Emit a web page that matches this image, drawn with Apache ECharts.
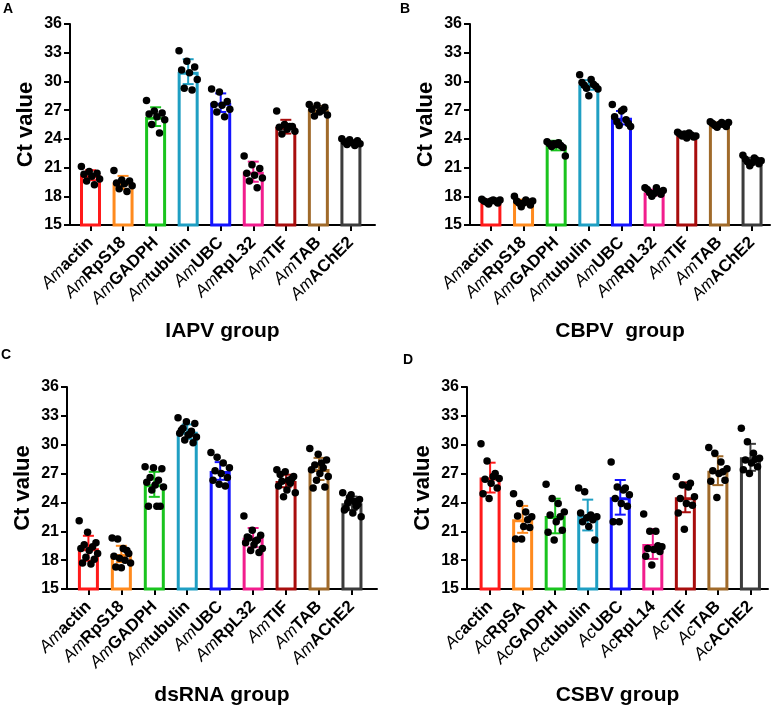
<!DOCTYPE html>
<html>
<head>
<meta charset="utf-8">
<script src="https://cdn.jsdelivr.net/npm/echarts@6/dist/echarts.min.js"></script>
<style>
html,body{margin:0;padding:0;background:#fff;}
#chart{width:777px;height:709px;}
</style>
</head>
<body>
<div id="chart"></div>
<script>
// ---------- categories ----------
const genesAm = ['actin','RpS18','GADPH','tubulin','UBC','RpL32','TIF','TAB','AChE2'];
const genesAc = ['actin','RpSA','GADPH','tubulin','UBC','RpL14','TIF','TAB','AChE2'];
const yTicks = [15,18,21,24,27,30,33,36];

// ---------- A: IAPV group ----------
const iapvMean = [20.2, 19.45, 26.32, 31.02, 27.78, 20.57, 25.27, 27.08, 23.62];
const iapvSD   = [0.52, 0.68, 0.98, 1.3, 0.97, 1.05, 0.72, 0.36, 0.15];
const iapvPoints = [
  [21.1, 20.6, 20.4, 20.3, 20.1, 19.8, 19.6, 19.2],
  [20.7, 19.7, 19.6, 19.4, 19.3, 19.1, 18.8, 18.5],
  [28.0, 26.9, 26.7, 26.6, 26.3, 26.0, 25.5, 24.6],
  [33.2, 32.1, 31.5, 31.2, 30.9, 30.2, 29.3, 29.1],
  [29.2, 28.9, 27.9, 27.6, 27.5, 27.1, 26.8, 26.3],
  [22.2, 21.3, 20.9, 20.4, 20.2, 19.9, 19.6, 18.9],
  [26.9, 25.5, 25.3, 25.2, 25.0, 24.8, 24.5, 25.3],
  [27.6, 27.5, 27.3, 27.1, 26.8, 26.5, 26.4, 27.0],
  [24.0, 23.9, 23.8, 23.7, 23.6, 23.5, 23.4, 23.3]
];

// ---------- B: CBPV group ----------
const cbpvMean = [17.5, 17.4, 23.3, 29.63, 26.21, 18.4, 24.4, 25.52, 21.72];
const cbpvSD   = [0.15, 0.25, 0.5, 0.5, 0.7, 0.3, 0.2, 0.2, 0.3];
const cbpvPoints = [
  [17.7, 17.6, 17.5, 17.5, 17.4, 17.3, 17.2, 17.6, 17.5],
  [18.0, 17.6, 17.5, 17.4, 17.3, 17.1, 16.9, 17.5, 17.3],
  [23.7, 23.6, 23.5, 23.3, 23.2, 23.1, 23.5, 22.2, 23.4],
  [30.7, 30.2, 29.9, 29.7, 29.6, 29.5, 29.3, 29.2, 28.5],
  [27.6, 27.1, 26.3, 26.0, 25.8, 25.6, 25.4, 25.3, 26.9],
  [18.9, 18.9, 18.7, 18.5, 18.4, 18.2, 18.0, 18.6, 18.3],
  [24.7, 24.6, 24.5, 24.4, 24.3, 24.2, 24.5, 24.3, 24.1],
  [25.8, 25.7, 25.6, 25.5, 25.4, 25.3, 25.2, 25.7, 25.5],
  [22.3, 22.0, 21.9, 21.8, 21.6, 21.4, 21.2, 21.7, 21.5]
];

// ---------- C: dsRNA group ----------
const dsrnaMean = [19.23, 18.64, 25.88, 31.36, 27.27, 20.34, 26.23, 27.48, 23.91];
const dsrnaSD   = [1.3, 0.85, 1.3, 0.75, 0.92, 1.0, 0.65, 1.15, 0.7];
const dsrnaPoints = [
  [22.1, 20.9, 19.8, 19.6, 19.4, 19.2, 19.0, 18.7, 18.3, 18.1, 17.7, 17.6],
  [20.3, 20.2, 19.2, 18.7, 18.4, 18.2, 18.0, 17.7, 17.3, 17.2, 19.0],
  [27.7, 27.6, 27.5, 26.6, 26.3, 26.1, 25.8, 25.6, 25.3, 23.6, 23.6, 23.6],
  [32.8, 32.4, 32.2, 31.7, 31.4, 31.2, 31.0, 30.8, 30.5, 30.2, 31.5, 31.1],
  [29.2, 28.7, 28.1, 27.6, 27.3, 27.0, 26.6, 26.3, 25.9, 25.7],
  [22.6, 21.1, 20.6, 20.3, 20.1, 19.8, 19.6, 19.2, 19.0, 18.8, 20.4, 20.0],
  [27.4, 27.2, 26.7, 26.2, 26.0, 25.7, 25.3, 25.0, 24.6, 26.5, 26.9, 26.3],
  [29.6, 29.0, 28.4, 27.9, 27.6, 27.4, 27.0, 26.7, 26.3, 25.6, 25.5, 28.1],
  [25.0, 24.8, 24.3, 24.0, 23.6, 23.2, 22.9, 22.5, 24.5, 23.8, 23.4, 24.1]
];

// ---------- D: CSBV group ----------
const csbvMean = [26.58, 22.24, 22.59, 22.69, 24.53, 19.68, 24.53, 27.3, 28.69];
const csbvSD   = [1.55, 1.4, 1.8, 1.6, 1.8, 1.55, 1.55, 1.5, 1.4];
const csbvPoints = [
  [30.1, 28.3, 26.7, 26.5, 26.4, 26.0, 25.5, 24.9, 24.4, 27.0],
  [24.9, 23.9, 23.0, 22.5, 22.6, 21.5, 21.4, 20.2, 20.2, 22.2],
  [25.9, 24.4, 23.9, 23.0, 22.7, 22.0, 21.1, 20.9, 20.1, 22.5],
  [25.5, 25.1, 22.7, 22.5, 22.0, 21.5, 20.1, 22.9, 22.4, 22.2],
  [28.2, 25.6, 25.3, 24.8, 24.4, 23.9, 23.6, 22.0, 22.0, 25.5],
  [22.8, 21.0, 21.0, 19.4, 19.2, 19.1, 18.9, 18.4, 17.5, 19.5],
  [26.7, 25.8, 25.6, 24.6, 24.4, 23.9, 23.7, 22.9, 21.2, 26.0],
  [29.7, 29.1, 28.2, 27.5, 27.3, 27.0, 26.3, 26.2, 24.5, 27.2],
  [31.7, 30.3, 29.1, 28.6, 28.4, 28.1, 27.7, 27.4, 27.0, 28.5]
];

// ---------- styling ----------
const barColors = ['#ff1a1a','#ff8a1e','#19c41e','#1f9fc3','#1414ff','#f21d8d','#a80d0d','#a06a2a','#3c3c3c'];
const FONT = '"Liberation Sans", Arial, Helvetica, sans-serif';

function gcd(a,b){ return b ? gcd(b, a % b) : a; }
function jitter(j, n){
  let m = [3,5,7,4,2].find(k => gcd(k, n) === 1) || 1;
  const r = (j * m) % n;
  return (r / (n - 1) - 0.5) * 0.56;
}

const panels = [
  {grid:{left:70, top:24, width:305, height:201}, xMin:-0.63, xMax:8.74, prefix:'Am', genes:genesAm,
   mean:iapvMean, sd:iapvSD, pts:iapvPoints, title:'IAPV group'},
  {grid:{left:470, top:24, width:300, height:201}, xMin:-0.64, xMax:8.55, prefix:'Am', genes:genesAm,
   mean:cbpvMean, sd:cbpvSD, pts:cbpvPoints, title:'CBPV  group'},
  {grid:{left:67, top:387, width:310, height:202}, xMin:-0.65, xMax:8.76, prefix:'Am', genes:genesAm,
   mean:dsrnaMean, sd:dsrnaSD, pts:dsrnaPoints, title:'dsRNA group'},
  {grid:{left:467, top:387, width:301, height:202}, xMin:-0.71, xMax:8.54, prefix:'Ac', genes:genesAc,
   mean:csbvMean, sd:csbvSD, pts:csbvPoints, title:'CSBV group'}
];

const catIdx = genesAm.map((_, i) => i);

const option = {
  animation:false,
  backgroundColor:'#fff',
  textStyle:{fontFamily:FONT},
  title:[
    {text:'A', left:3, top:2},
    {text:'B', left:400, top:2},
    {text:'C', left:1, top:348},
    {text:'D', left:403, top:353}
  ].map(t => Object.assign(t, {padding:0, textStyle:{fontFamily:FONT, fontSize:14, fontWeight:'bold', color:'#000'}})),
  grid:[], xAxis:[], yAxis:[], series:[]
};

panels.forEach((p, k) => {
  option.grid.push(Object.assign({outerBoundsMode:'none', containLabel:false}, p.grid));
  option.xAxis.push({
    gridIndex:k, type:'value', min:p.xMin, max:p.xMax,
    splitLine:{show:false},
    axisLine:{show:true, onZero:false, lineStyle:{color:'#000', width:2}},
    axisTick:{show:true, customValues:catIdx, length:6, lineStyle:{color:'#000', width:2}},
    axisLabel:{
      show:true, customValues:catIdx, rotate:45, margin:15, color:'#000',
      formatter:(v) => '{i|' + p.prefix + '}{b|' + p.genes[Math.round(v)] + '}',
      rich:{
        i:{fontFamily:FONT, fontStyle:'italic', fontWeight:'normal', fontSize:17, color:'#000'},
        b:{fontFamily:FONT, fontWeight:'bold', fontSize:17, color:'#000'}
      }
    },
    name:p.title, nameLocation:'middle', nameGap:96,
    nameTextStyle:{fontFamily:FONT, fontSize:21, fontWeight:'bold', color:'#000'}
  });
  option.yAxis.push({
    gridIndex:k, type:'value', min:yTicks[0], max:yTicks[yTicks.length-1], interval:3,
    splitLine:{show:false},
    axisLine:{show:true, onZero:false, lineStyle:{color:'#000', width:2}},
    axisTick:{show:true, length:6, lineStyle:{color:'#000', width:2}},
    axisLabel:{color:'#000', fontFamily:FONT, fontSize:16, fontWeight:'bold', margin:8},
    name:'Ct value', nameLocation:'middle', nameGap:33,
    nameTextStyle:{fontFamily:FONT, fontSize:22, fontWeight:'bold', color:'#000'}
  });
  option.series.push({
    type:'bar', xAxisIndex:k, yAxisIndex:k, barWidth:21, z:2,
    data:p.mean.map((m, i) => ({value:[i, m], itemStyle:{color:'#fff', borderColor:barColors[i], borderWidth:3}}))
  });
  option.series.push({
    type:'custom', xAxisIndex:k, yAxisIndex:k, z:3,
    encode:{x:0, y:1},
    data:p.mean.map((m, i) => [i, m, p.sd[i]]),
    renderItem:(params, api) => {
      const x = api.value(0), m = api.value(1), s = api.value(2);
      const top = api.coord([x, m + s]);
      const bot = api.coord([x, m - s]);
      const hw = 5.5;
      const st = {stroke:barColors[params.dataIndex], lineWidth:2};
      return {type:'group', children:[
        {type:'line', shape:{x1:top[0], y1:top[1], x2:bot[0], y2:bot[1]}, style:st},
        {type:'line', shape:{x1:top[0]-hw, y1:top[1], x2:top[0]+hw, y2:top[1]}, style:st},
        {type:'line', shape:{x1:bot[0]-hw, y1:bot[1], x2:bot[0]+hw, y2:bot[1]}, style:st}
      ]};
    }
  });
  const scat = [];
  p.pts.forEach((arr, i) => arr.forEach((v, j) => scat.push([i + jitter(j, arr.length), v])));
  option.series.push({
    type:'scatter', xAxisIndex:k, yAxisIndex:k, z:4, symbolSize:7.5,
    itemStyle:{color:'#000', opacity:1}, data:scat
  });
});

const chart = echarts.init(document.getElementById('chart'), null, {renderer:'canvas'});
chart.setOption(option);
</script>
</body>
</html>
